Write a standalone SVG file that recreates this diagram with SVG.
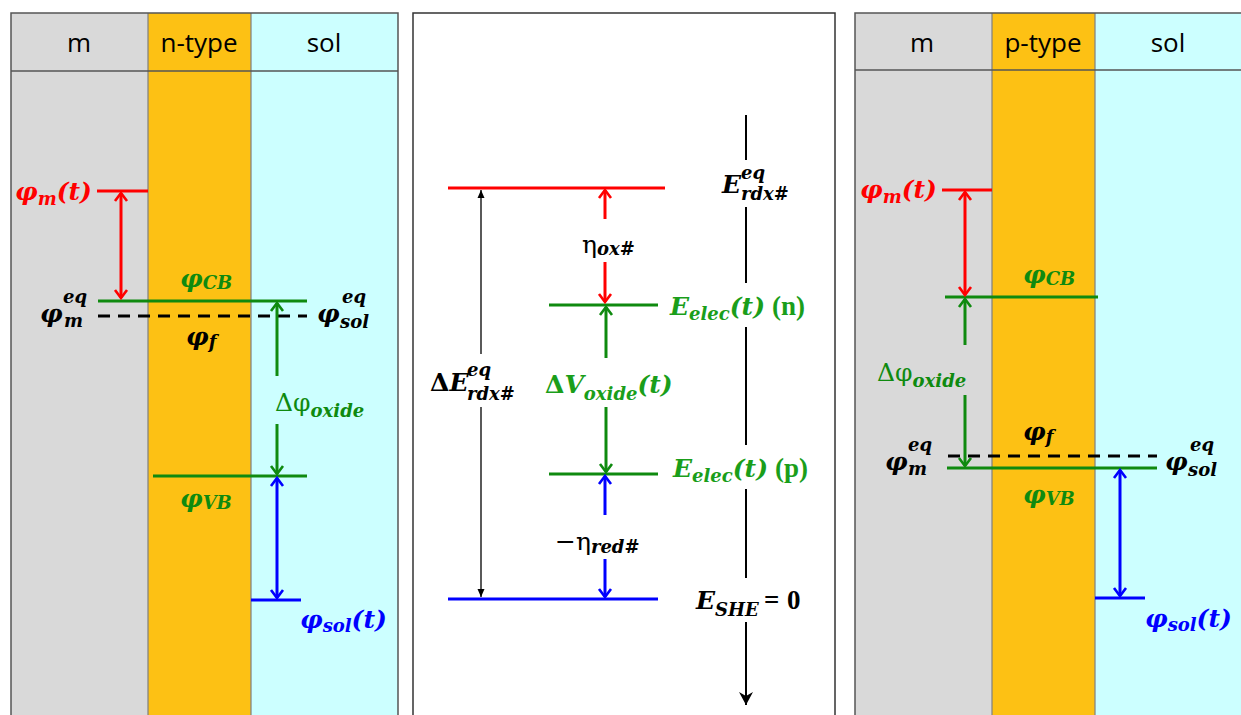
<svg xmlns="http://www.w3.org/2000/svg" width="1241" height="715" viewBox="0 0 1241 715">
<style>
.hdr{font-family:"Open Sans",Lato,sans-serif;font-size:26px;fill:#000;text-anchor:middle}
.mi{font-family:"DejaVu Serif",serif;font-weight:bold;font-style:italic;font-size:25px}
.up{font-style:normal;font-weight:normal}
.ub{font-style:normal;font-weight:bold}
.tb{font-family:"Liberation Serif",serif;font-style:normal;font-weight:bold;font-size:27px}
.s{font-size:18px}
.r{fill:#ff0000}.g{fill:#0f8a0f}.g2{fill:#1a9e1a}.b{fill:#0000ff}.k{fill:#000}
.lr{stroke:#ff0000;stroke-width:3;fill:none}
.lg{stroke:#0f8a0f;stroke-width:3;fill:none}
.lb{stroke:#0000ff;stroke-width:3;fill:none}
.lk{stroke:#000;stroke-width:3;fill:none;stroke-dasharray:12 8}
.ax{stroke:#000;stroke-width:2;fill:none}
.thin{stroke:#000;stroke-width:1.3;fill:none}
.col{stroke:#7f7f7f;stroke-width:1.2}
.frame{fill:none;stroke:#555;stroke-width:1.5}
</style>
<defs>
<marker id="aR" viewBox="-11 -8 13 16" refX="0" refY="0" markerWidth="13" markerHeight="16" markerUnits="userSpaceOnUse" orient="auto-start-reverse"><path d="M-8,-6 L0,0 L-8,6" fill="none" stroke="#ff0000" stroke-width="2.6"/></marker>
<marker id="aG" viewBox="-11 -8 13 16" refX="0" refY="0" markerWidth="13" markerHeight="16" markerUnits="userSpaceOnUse" orient="auto-start-reverse"><path d="M-8,-6 L0,0 L-8,6" fill="none" stroke="#0f8a0f" stroke-width="2.6"/></marker>
<marker id="aB" viewBox="-11 -8 13 16" refX="0" refY="0" markerWidth="13" markerHeight="16" markerUnits="userSpaceOnUse" orient="auto-start-reverse"><path d="M-8,-6 L0,0 L-8,6" fill="none" stroke="#0000ff" stroke-width="2.6"/></marker>
<marker id="aK" viewBox="-9 -4 10 8" refX="0" refY="0" markerWidth="10" markerHeight="8" markerUnits="userSpaceOnUse" orient="auto-start-reverse"><path d="M-8,-3.5 L0,0 L-8,3.5 Z" fill="#000"/></marker>
<marker id="aX" viewBox="-14 -8 15 16" refX="0" refY="0" markerWidth="15" markerHeight="16" markerUnits="userSpaceOnUse" orient="auto"><path d="M-13,-7 L0,0 L-13,7 L-9,0 Z" fill="#000"/></marker>
</defs>
<rect width="1241" height="715" fill="#fff"/>

<g id="panel-n">
<rect x="11" y="13" width="137" height="710" fill="#d9d9d9"/>
<rect x="148" y="13" width="103" height="710" fill="#fdc114"/>
<rect x="251" y="13" width="147" height="710" fill="#ccffff"/>
<line class="col" x1="148" y1="13" x2="148" y2="715"/>
<line class="col" x1="251" y1="13" x2="251" y2="715"/>
<line class="frame" x1="11" y1="71" x2="398" y2="71"/>
<rect class="frame" x="11" y="13" width="387" height="710"/>
<text class="hdr" x="79" y="52">m</text>
<text class="hdr" x="199" y="52">n-type</text>
<text class="hdr" x="324" y="52">sol</text>
</g>

<g id="panel-center">
<rect x="413" y="13" width="422" height="710" fill="#fff" stroke="#333" stroke-width="1.5"/>
</g>

<g id="panel-p">
<rect x="855" y="13" width="137" height="710" fill="#d9d9d9"/>
<rect x="992" y="13" width="103" height="710" fill="#fdc114"/>
<rect x="1095" y="13" width="160" height="710" fill="#ccffff"/>
<line class="col" x1="992" y1="13" x2="992" y2="715"/>
<line class="col" x1="1095" y1="13" x2="1095" y2="715"/>
<line class="frame" x1="855" y1="70" x2="1241" y2="70"/>
<rect class="frame" x="855" y="13" width="400" height="710"/>
<text class="hdr" x="922" y="52">m</text>
<text class="hdr" x="1043" y="52">p-type</text>
<text class="hdr" x="1168" y="52">sol</text>
</g>

<g id="levels-n">
<line class="lr" x1="97" y1="191" x2="148" y2="191"/>
<line class="lg" x1="98" y1="301" x2="307" y2="301"/>
<line class="lk" x1="98" y1="316" x2="307" y2="316"/>
<line class="lg" x1="153" y1="476" x2="307" y2="476"/>
<line class="lb" x1="251" y1="600" x2="301" y2="600"/>
<text class="mi r" y="200"><tspan x="15">φ</tspan><tspan class="s" dy="5">m</tspan><tspan dy="-5">(t)</tspan></text>
<text class="mi g" y="287"><tspan x="180">φ</tspan><tspan class="s" dy="2">CB</tspan></text>
<text class="mi k" y="322"><tspan x="40">φ</tspan><tspan class="s" x="63" dy="-19">eq</tspan><tspan class="s" x="64" dy="24">m</tspan></text>
<text class="mi k" y="322"><tspan x="317">φ</tspan><tspan class="s" x="342" dy="-19">eq</tspan><tspan class="s" x="340" dy="25">sol</tspan></text>
<text class="mi k" y="345"><tspan x="186">φ</tspan><tspan class="s" dy="3">f</tspan></text>
<text class="mi g" y="411"><tspan x="275" class="up">Δφ</tspan><tspan class="s" dy="6">oxide</tspan></text>
<text class="mi g" y="507"><tspan x="180">φ</tspan><tspan class="s" dy="2">VB</tspan></text>
<text class="mi b" y="628"><tspan x="300">φ</tspan><tspan class="s" dy="4">sol</tspan><tspan dy="-4">(t)</tspan></text>
</g>

<g id="levels-center">
<line class="lr" x1="448" y1="188" x2="665" y2="188"/>
<line class="lg" x1="549" y1="305" x2="658" y2="305"/>
<line class="lg" x1="549" y1="474" x2="658" y2="474"/>
<line class="lb" x1="448" y1="599" x2="658" y2="599"/>
<text class="mi k" y="193"><tspan x="722">E</tspan><tspan class="s" x="741" dy="-14">eq</tspan><tspan class="s" x="741" dy="21">rdx#</tspan></text>
<text class="mi k" y="253"><tspan x="582" class="up">η</tspan><tspan class="s" dy="2">ox#</tspan></text>
<text class="mi g2" y="315"><tspan x="670">E</tspan><tspan class="s" font-size="16" dy="5">elec</tspan><tspan dy="-5">(t)</tspan><tspan class="tb" x="772">(n)</tspan></text>
<text class="mi g2" y="393"><tspan x="545" class="ub">Δ</tspan><tspan>V</tspan><tspan class="s" dy="7">oxide</tspan><tspan dy="-7">(t)</tspan></text>
<text class="mi g2" y="477"><tspan x="673">E</tspan><tspan class="s" font-size="16" dy="5">elec</tspan><tspan dy="-5">(t)</tspan><tspan class="tb" x="775">(p)</tspan></text>
<text class="mi k" y="550"><tspan x="555" class="up">−η</tspan><tspan class="s" dy="3">red#</tspan></text>
<text class="mi k" y="391"><tspan x="430" class="ub">Δ</tspan><tspan>E</tspan><tspan class="s" x="467" dy="-15">eq</tspan><tspan class="s" x="467" dy="24">rdx#</tspan></text>
<text class="mi k" y="609"><tspan x="696">E</tspan><tspan class="s" font-size="16" dy="7">SHE</tspan><tspan class="tb" x="764" dy="-7">=</tspan><tspan class="tb" x="787">0</tspan></text>
</g>

<g id="levels-p">
<line class="lr" x1="942" y1="190" x2="992" y2="190"/>
<line class="lg" x1="945" y1="297" x2="1098" y2="297"/>
<line class="lk" x1="948" y1="456" x2="1157" y2="456"/>
<line class="lg" x1="947" y1="468" x2="1157" y2="468"/>
<line class="lb" x1="1095" y1="598" x2="1145" y2="598"/>
<text class="mi r" y="198"><tspan x="860">φ</tspan><tspan class="s" dy="5">m</tspan><tspan dy="-5">(t)</tspan></text>
<text class="mi g" y="283"><tspan x="1023">φ</tspan><tspan class="s" dy="2">CB</tspan></text>
<text class="mi g" y="381"><tspan x="877" class="up">Δφ</tspan><tspan class="s" dy="6">oxide</tspan></text>
<text class="mi k" y="440"><tspan x="1023">φ</tspan><tspan class="s" dy="3">f</tspan></text>
<text class="mi k" y="470"><tspan x="885">φ</tspan><tspan class="s" x="908" dy="-19">eq</tspan><tspan class="s" x="908" dy="24">m</tspan></text>
<text class="mi k" y="470"><tspan x="1165">φ</tspan><tspan class="s" x="1190" dy="-19">eq</tspan><tspan class="s" x="1188" dy="25">sol</tspan></text>
<text class="mi g" y="503"><tspan x="1023">φ</tspan><tspan class="s" dy="2">VB</tspan></text>
<text class="mi b" y="627"><tspan x="1145">φ</tspan><tspan class="s" dy="4">sol</tspan><tspan dy="-4">(t)</tspan></text>
</g>

<g id="connectors">
<line class="lr" x1="121" y1="193" x2="121" y2="298" marker-start="url(#aR)" marker-end="url(#aR)"/>
<line class="lg" x1="277" y1="376" x2="277" y2="303" marker-end="url(#aG)"/>
<line class="lg" x1="277" y1="424" x2="277" y2="474" marker-end="url(#aG)"/>
<line class="lb" x1="277" y1="478" x2="277" y2="598" marker-start="url(#aB)" marker-end="url(#aB)"/>

<line class="thin" x1="481" y1="354" x2="481" y2="190" marker-end="url(#aK)"/>
<line class="thin" x1="481" y1="407" x2="481" y2="597" marker-end="url(#aK)"/>
<line class="lr" x1="605" y1="219" x2="605" y2="190" marker-end="url(#aR)"/>
<line class="lr" x1="605" y1="262" x2="605" y2="302" marker-end="url(#aR)"/>
<line class="lg" x1="606" y1="358" x2="606" y2="307" marker-end="url(#aG)"/>
<line class="lg" x1="606" y1="407" x2="606" y2="472" marker-end="url(#aG)"/>
<line class="lb" x1="605" y1="515" x2="605" y2="476" marker-end="url(#aB)"/>
<line class="lb" x1="605" y1="559" x2="605" y2="597" marker-end="url(#aB)"/>
<line class="ax" x1="746" y1="115" x2="746" y2="160"/>
<line class="ax" x1="746" y1="207" x2="746" y2="283"/>
<line class="ax" x1="746" y1="327" x2="746" y2="445"/>
<line class="ax" x1="746" y1="489" x2="746" y2="578"/>
<line class="ax" x1="746" y1="622" x2="746" y2="705" marker-end="url(#aX)"/>

<line class="lr" x1="965" y1="192" x2="965" y2="295" marker-start="url(#aR)" marker-end="url(#aR)"/>
<line class="lg" x1="965" y1="345" x2="965" y2="299" marker-end="url(#aG)"/>
<line class="lg" x1="965" y1="395" x2="965" y2="466" marker-end="url(#aG)"/>
<line class="lb" x1="1120" y1="470" x2="1120" y2="596" marker-start="url(#aB)" marker-end="url(#aB)"/>
</g>
</svg>
